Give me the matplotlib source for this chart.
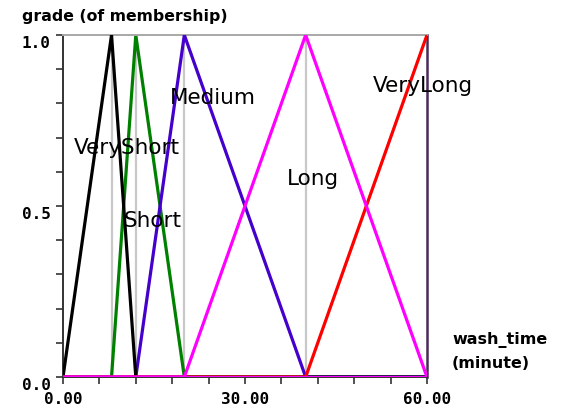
import matplotlib.pyplot as plt

# membership functions (x in minutes, grade)
very_short_x = [0, 8, 12, 60]
very_short_y = [0, 1, 0, 0]
short_x = [0, 8, 12, 20, 60]
short_y = [0, 0, 1, 0, 0]
medium_x = [0, 12, 20, 40, 60]
medium_y = [0, 0, 1, 0, 0]
very_long_x = [0, 40, 60]
very_long_y = [0, 0, 1]
long_x = [0, 20, 40, 60]
long_y = [0, 0, 1, 0]

peak_x = [8, 12, 20, 40]

labels = ["VeryShort", "Short", "Medium", "Long", "VeryLong"]
label_x = [10.5, 14.8, 24.7, 41.2, 59.3]
label_y = [0.67, 0.455, 0.815, 0.58, 0.85]

x_ticklabels = ["0.00", "30.00", "60.00"]
x_ticklabel_pos = [0, 30, 60]
y_ticklabels = ["0.0", "0.5", "1.0"]
y_ticklabel_pos = [0.0, 0.5, 1.0]

fig = plt.figure(figsize=(5.61, 4.11), dpi=100)
ax = fig.add_axes([0.1123, 0.0827, 0.6488, 0.8321])

for px in peak_x:
    ax.plot([px, px], [0, 1], color="#c8c8c8", linewidth=1.6, zorder=1)

lw = 2.3
ax.plot(short_x, short_y, color="#008000", linewidth=lw, zorder=2)
ax.plot(medium_x, medium_y, color="#4400cc", linewidth=lw, zorder=3)
ax.plot(very_short_x, very_short_y, color="black", linewidth=lw, zorder=4)
ax.plot(very_long_x, very_long_y, color="#ff0000", linewidth=lw, zorder=5)
ax.plot(long_x, long_y, color="#ff00ff", linewidth=lw, zorder=6)
# zero grade baseline shows in magenta across the whole range
ax.axhline(0, color="#ff00ff", linewidth=lw, zorder=6)

for name, lx, ly in zip(labels, label_x, label_y):
    ax.text(lx, ly, name, ha="center", va="center", fontsize=15.5,
            family="DejaVu Sans", color="black", zorder=7)

ax.set_xlim(0, 60)
ax.set_ylim(0, 1)
ax.set_xticks(range(0, 61, 6))
ax.set_yticks([i / 10 for i in range(11)])
ax.set_xticklabels([])
ax.set_yticklabels([])
ax.tick_params(direction="out", length=5, width=1.2, color="#333333")

for side in ["left", "bottom"]:
    ax.spines[side].set_color("#333333")
    ax.spines[side].set_linewidth(1.4)
ax.spines["top"].set_color("#a8a8a8")
ax.spines["top"].set_linewidth(1.4)
ax.spines["right"].set_color("#4a2a5a")
ax.spines["right"].set_linewidth(1.8)

tick_font = dict(fontsize=11.5, fontweight="bold", family="DejaVu Sans Mono")
for lab, ypos in zip(y_ticklabels, y_ticklabel_pos):
    ax.annotate(lab, xy=(0, ypos), xycoords=("axes fraction", "data"),
                xytext=(-9, -6), textcoords="offset points",
                ha="right", va="center", annotation_clip=False, **tick_font)
for lab, xpos in zip(x_ticklabels, x_ticklabel_pos):
    ax.annotate(lab, xy=(xpos, 0), xycoords=("data", "axes fraction"),
                xytext=(0, -16), textcoords="offset points",
                ha="center", va="center", annotation_clip=False, **tick_font)

fig.text(22 / 561, 1 - 17 / 411, "grade (of membership)", ha="left", va="center",
         fontsize=11.3, fontweight="bold")
fig.text(452 / 561, 1 - 340 / 411, "wash_time", ha="left", va="center",
         fontsize=11.5, fontweight="bold")
fig.text(452 / 561, 1 - 363 / 411, "(minute)", ha="left", va="center",
         fontsize=11.5, fontweight="bold")

fig.savefig("out.png", dpi=100)
